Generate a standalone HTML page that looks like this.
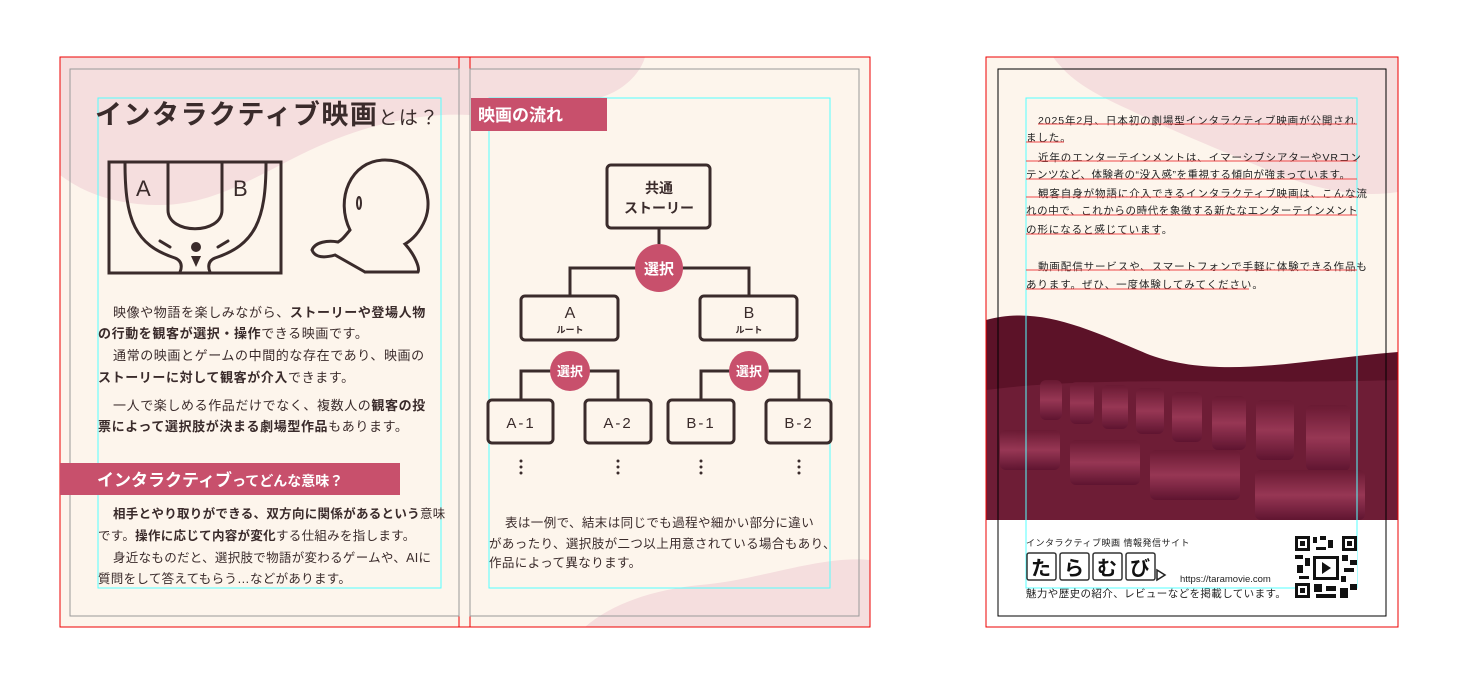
<!DOCTYPE html>
<html><head><meta charset="utf-8"><style>
html,body{margin:0;padding:0;background:#fff;}
svg{display:block;font-family:"Liberation Sans","Noto Sans CJK JP",sans-serif;}
</style></head><body>
<svg width="1457" height="677" viewBox="0 0 1457 677" xmlns="http://www.w3.org/2000/svg">
<defs>
<linearGradient id="seat" x1="0" y1="0" x2="0" y2="1">
<stop offset="0" stop-color="#6a1a33"/><stop offset="0.5" stop-color="#9c3a58"/><stop offset="1" stop-color="#5e1430"/>
</linearGradient>
<clipPath id="lp"><rect x="60" y="57" width="810" height="570"/></clipPath>
<clipPath id="rp"><rect x="986" y="57" width="412" height="570"/></clipPath>
</defs>
<!-- left spread -->
<rect x="60" y="57" width="810" height="570" fill="#fdf5ec"/>
<g clip-path="url(#lp)" fill="#f5dede">
<path d="M60 57 H470 V115 C420 112 360 125 300 155 C250 180 210 205 160 205 C110 205 80 190 60 175 Z"/>
<path d="M470 57 H645 C640 75 620 95 590 100 C550 105 500 105 470 100 Z"/>
<path d="M870 560 C820 555 760 580 700 585 C650 590 610 605 585 627 H870 Z"/>
</g>
<rect x="60" y="57" width="810" height="570" fill="none" stroke="#e00" stroke-width="1"/>
<line x1="459" y1="57" x2="459" y2="627" stroke="#e00"/>
<line x1="470" y1="57" x2="470" y2="627" stroke="#e00"/>
<rect x="70" y="69" width="389" height="547" fill="none" stroke="#999"/>
<rect x="470" y="69" width="389" height="547" fill="none" stroke="#999"/>
<rect x="98" y="98" width="343" height="490" fill="none" stroke="#5ff"/>
<rect x="489" y="98" width="341" height="490" fill="none" stroke="#5ff"/>

<!-- title -->
<text x="95" y="124" font-size="27" fill="#3a2b2b" font-weight="bold" letter-spacing="1.5">インタラクティブ映画<tspan font-size="19" font-weight="normal">とは？</tspan></text>
<!-- illustration -->
<g fill="none" stroke="#3a2b2b" stroke-width="3" stroke-linecap="round">
<rect x="109" y="162" width="172" height="111"/>
<path d="M125 163 C125 220 135 245 175 258 C185 262 180 272 180 272"/>
<path d="M266 163 C266 220 255 245 215 258 C205 262 210 272 210 272"/>
<path d="M168 163 V210 C168 235 222 235 222 210 V163"/>
<path d="M170 247 L160 241 M218 247 L228 241"/>
<path d="M350 230 C335 200 350 160 385 160 C420 160 435 195 425 220 C420 232 412 240 405 244 C415 255 420 268 418 272 H365"/>
<path d="M350 230 C345 236 342 240 338 242 C328 240 315 242 312 250 C315 258 325 258 335 255 L365 272"/>
</g>
<ellipse cx="359" cy="203" rx="2" ry="6" fill="none" stroke="#3a2b2b" stroke-width="2"/>
<circle cx="196" cy="247" r="5" fill="#3a2b2b"/><path d="M191 256 L201 256 L196 267Z" fill="#3a2b2b"/>
<text x="136" y="196" font-size="22" fill="#3a2b2b">A</text><text x="233" y="196" font-size="22" fill="#3a2b2b">B</text>

<g font-size="13" fill="#3a2b2b" letter-spacing="0.6">
<text x="113" y="317">映像や物語を楽しみながら、<tspan font-weight="bold">ストーリーや登場人物</tspan></text>
<text x="98" y="338"><tspan font-weight="bold">の行動を観客が選択・操作</tspan>できる映画です。</text>
<text x="113" y="360">通常の映画とゲームの中間的な存在であり、映画の</text>
<text x="98" y="382"><tspan font-weight="bold">ストーリーに対して観客が介入</tspan>できます。</text>
<text x="113" y="410">一人で楽しめる作品だけでなく、複数人の<tspan font-weight="bold">観客の投</tspan></text>
<text x="98" y="431"><tspan font-weight="bold">票によって選択肢が決まる劇場型作品</tspan>もあります。</text>
</g>
<rect x="60" y="463" width="340" height="32" fill="#c8506c"/>
<text x="97" y="486" font-size="17" fill="#fff" font-weight="bold">インタラクティブ<tspan font-size="14">ってどんな意味？</tspan></text>
<g font-size="12.5" fill="#3a2b2b" letter-spacing="0.3">
<text x="113" y="518"><tspan font-weight="bold">相手とやり取りができる、双方向に関係があるという</tspan>意味</text>
<text x="98" y="540">です。<tspan font-weight="bold">操作に応じて内容が変化</tspan>する仕組みを指します。</text>
<text x="113" y="562">身近なものだと、選択肢で物語が変わるゲームや、AIに</text>
<text x="98" y="583">質問をして答えてもらう…などがあります。</text>
</g>

<!-- right page -->
<rect x="471" y="98" width="136" height="33" fill="#c8506c"/>
<text x="478" y="121" font-size="17" fill="#fff" font-weight="bold">映画の流れ</text>
<g fill="none" stroke="#3a2b2b" stroke-width="3">
<path d="M570 296 V268 H749 V296"/>
<path d="M521 400 V371 H618 V400"/>
<path d="M701 400 V371 H799 V400"/>
<rect x="607" y="165" width="103" height="63" rx="4" fill="#fdf5ec"/>
<rect x="521" y="296" width="97" height="44" rx="4" fill="#fdf5ec"/>
<rect x="700" y="296" width="97" height="44" rx="4" fill="#fdf5ec"/>
<rect x="488" y="400" width="65" height="43" rx="4" fill="#fdf5ec"/>
<rect x="585" y="400" width="66" height="43" rx="4" fill="#fdf5ec"/>
<rect x="668" y="400" width="66" height="43" rx="4" fill="#fdf5ec"/>
<rect x="766" y="400" width="65" height="43" rx="4" fill="#fdf5ec"/>
<path d="M659 228 V244" />
</g>
<g fill="#3a2b2b">
<circle cx="521" cy="461" r="1.5"/><circle cx="521" cy="467" r="1.5"/><circle cx="521" cy="473" r="1.5"/>
<circle cx="618" cy="461" r="1.5"/><circle cx="618" cy="467" r="1.5"/><circle cx="618" cy="473" r="1.5"/>
<circle cx="701" cy="461" r="1.5"/><circle cx="701" cy="467" r="1.5"/><circle cx="701" cy="473" r="1.5"/>
<circle cx="799" cy="461" r="1.5"/><circle cx="799" cy="467" r="1.5"/><circle cx="799" cy="473" r="1.5"/>
</g>
<circle cx="659" cy="268" r="24" fill="#c8506c"/>
<circle cx="570" cy="371" r="20" fill="#c8506c"/>
<circle cx="749" cy="371" r="20" fill="#c8506c"/>
<g text-anchor="middle" font-weight="bold">
<text x="659" y="274" font-size="15" fill="#fff">選択</text>
<text x="570" y="376" font-size="13" fill="#fff">選択</text>
<text x="749" y="376" font-size="13" fill="#fff">選択</text>
<text x="659" y="193" font-size="14" fill="#3a2b2b">共通</text>
<text x="659" y="213" font-size="14" fill="#3a2b2b">ストーリー</text>
<text x="570" y="318" font-size="16" fill="#3a2b2b" font-weight="normal">A</text>
<text x="570" y="333" font-size="9" fill="#3a2b2b">ルート</text>
<text x="749" y="318" font-size="16" fill="#3a2b2b" font-weight="normal">B</text>
<text x="749" y="333" font-size="9" fill="#3a2b2b">ルート</text>
<text x="521" y="428" font-size="15" fill="#3a2b2b" font-weight="normal" letter-spacing="2">A-1</text>
<text x="618" y="428" font-size="15" fill="#3a2b2b" font-weight="normal" letter-spacing="2">A-2</text>
<text x="701" y="428" font-size="15" fill="#3a2b2b" font-weight="normal" letter-spacing="2">B-1</text>
<text x="799" y="428" font-size="15" fill="#3a2b2b" font-weight="normal" letter-spacing="2">B-2</text>
</g>
<g font-size="12.5" fill="#3a2b2b" letter-spacing="0.4">
<text x="505" y="527">表は一例で、結末は同じでも過程や細かい部分に違い</text>
<text x="489" y="548">があったり、選択肢が二つ以上用意されている場合もあり、</text>
<text x="489" y="567">作品によって異なります。</text>
</g>

<!-- right doc -->
<rect x="986" y="57" width="412" height="570" fill="#fdf5ec"/>
<g clip-path="url(#rp)">
<path d="M1053 57 H1398 V192 C1360 198 1320 190 1280 175 C1220 150 1170 130 1130 110 C1090 92 1070 80 1053 57Z" fill="#f5dede"/>
<path d="M986 320 C1040 305 1090 330 1150 355 C1220 380 1300 360 1398 352 V520 H986 Z" fill="#5c1228"/>
<path d="M986 390 C1100 375 1250 385 1398 380 V520 H986Z" fill="#7a2540" opacity="0.6"/>
<g fill="url(#seat)" opacity="0.9">
<rect x="1040" y="380" width="22" height="40" rx="6"/><rect x="1070" y="382" width="24" height="42" rx="6"/>
<rect x="1102" y="385" width="26" height="44" rx="6"/><rect x="1136" y="388" width="28" height="46" rx="6"/>
<rect x="1172" y="392" width="30" height="50" rx="6"/><rect x="1212" y="396" width="34" height="54" rx="6"/>
<rect x="1256" y="400" width="38" height="60" rx="6"/><rect x="1306" y="405" width="44" height="66" rx="6"/>
<rect x="1000" y="430" width="60" height="40" rx="6"/><rect x="1070" y="440" width="70" height="45" rx="6"/>
<rect x="1150" y="450" width="90" height="50" rx="6"/><rect x="1255" y="470" width="110" height="50" rx="6"/>
</g>
<rect x="986" y="520" width="412" height="107" fill="#fff"/>
</g>
<rect x="986" y="57" width="412" height="570" fill="none" stroke="#e00"/>
<rect x="998" y="69" width="388" height="547" fill="none" stroke="#000"/>
<rect x="1026" y="98" width="331" height="490" fill="none" stroke="#5ff"/>
<g font-size="10.5" fill="#222" letter-spacing="0.9">
<text x="1038" y="124">2025年2月、日本初の劇場型インタラクティブ映画が公開され</text>
<text x="1026" y="141">ました。</text>
<text x="1038" y="161">近年のエンターテインメントは、イマーシブシアターやVRコン</text>
<text x="1026" y="178" letter-spacing="0.5">テンツなど、体験者の“没入感”を重視する傾向が強まっています。</text>
<text x="1038" y="197">観客自身が物語に介入できるインタラクティブ映画は、こんな流</text>
<text x="1026" y="214" letter-spacing="0.6">れの中で、これからの時代を象徴する新たなエンターテインメント</text>
<text x="1026" y="233">の形になると感じています。</text>
<text x="1038" y="270">動画配信サービスや、スマートフォンで手軽に体験できる作品も</text>
<text x="1026" y="288">あります。ぜひ、一度体験してみてください。</text>
</g>
<g stroke="#f04848" stroke-width="1">
<line x1="1038" y1="124" x2="1357" y2="124"/><line x1="1026" y1="142" x2="1064" y2="142"/>
<line x1="1026" y1="161" x2="1357" y2="161"/><line x1="1026" y1="179" x2="1357" y2="179"/>
<line x1="1026" y1="197" x2="1357" y2="197"/><line x1="1026" y1="215" x2="1357" y2="215"/>
<line x1="1026" y1="234" x2="1160" y2="234"/><line x1="1026" y1="270" x2="1357" y2="270"/>
<line x1="1026" y1="289" x2="1249" y2="289"/>
</g>
<text x="1026" y="546" font-size="9" fill="#222" letter-spacing="0.5">インタラクティブ映画 情報発信サイト</text>
<g fill="#fff" stroke="#333" stroke-width="1.5">
<rect x="1027" y="553" width="29" height="27" rx="2"/><rect x="1060" y="553" width="29" height="27" rx="2"/>
<rect x="1093" y="553" width="29" height="27" rx="2"/><rect x="1126" y="553" width="29" height="27" rx="2"/>
</g>
<g font-size="20" font-weight="bold" fill="#111" text-anchor="middle">
<text x="1041" y="575">た</text><text x="1074" y="575">ら</text><text x="1107" y="575">む</text><text x="1140" y="575">び</text>
</g>
<path d="M1157 570 L1165 575 L1157 580Z" fill="none" stroke="#222" stroke-width="1.5"/>
<text x="1180" y="582" font-size="9.5" fill="#222">https://taramovie.com</text>
<text x="1026" y="597" font-size="10.5" fill="#222" letter-spacing="0.4">魅力や歴史の紹介、レビューなどを掲載しています。</text>
<g fill="#111">
<rect x="1295" y="536" width="62" height="62" fill="#fff"/>
<rect x="1295" y="536" width="15" height="15"/><rect x="1298" y="539" width="9" height="9" fill="#fff"/><rect x="1300" y="541" width="5" height="5"/>
<rect x="1342" y="536" width="15" height="15"/><rect x="1345" y="539" width="9" height="9" fill="#fff"/><rect x="1347" y="541" width="5" height="5"/>
<rect x="1295" y="583" width="15" height="15"/><rect x="1298" y="586" width="9" height="9" fill="#fff"/><rect x="1300" y="588" width="5" height="5"/>
<rect x="1313" y="537" width="4" height="6"/><rect x="1320" y="536" width="6" height="4"/><rect x="1328" y="540" width="5" height="8"/><rect x="1316" y="547" width="10" height="3"/>
<rect x="1295" y="555" width="8" height="4"/><rect x="1305" y="558" width="5" height="8"/><rect x="1297" y="565" width="6" height="8"/><rect x="1299" y="576" width="10" height="3"/>
<rect x="1313" y="556" width="26" height="24"/><rect x="1316" y="559" width="20" height="18" fill="#fff"/><path d="M1322 562 L1331 568 L1322 574Z"/>
<rect x="1342" y="555" width="6" height="6"/><rect x="1350" y="560" width="7" height="5"/><rect x="1344" y="568" width="10" height="4"/><rect x="1341" y="576" width="5" height="6"/>
<rect x="1314" y="584" width="8" height="8"/><rect x="1326" y="586" width="10" height="5"/><rect x="1340" y="588" width="8" height="10"/><rect x="1350" y="584" width="7" height="6"/><rect x="1316" y="594" width="20" height="4"/>
</g>
</svg>
</body></html>
